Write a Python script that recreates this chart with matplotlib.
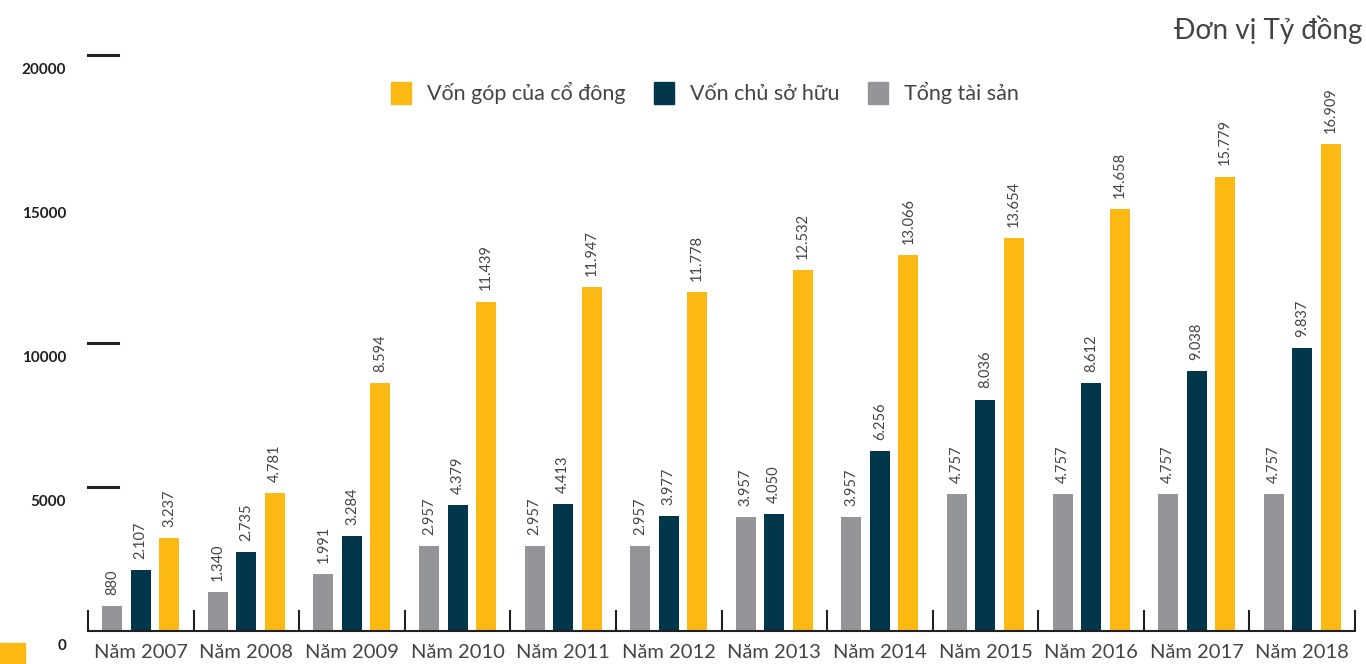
import numpy as np
import matplotlib.pyplot as plt
import matplotlib.transforms as mtransforms
from matplotlib.patches import Patch, Rectangle

plt.rcParams['font.family'] = ['Lato', 'DejaVu Sans']

years = ["Năm 2007", "Năm 2008", "Năm 2009", "Năm 2010", "Năm 2011", "Năm 2012",
         "Năm 2013", "Năm 2014", "Năm 2015", "Năm 2016", "Năm 2017", "Năm 2018"]
tong_tai_san = [880, 1340, 1991, 2957, 2957, 2957, 3957, 3957, 4757, 4757, 4757, 4757]
von_chu_so_huu = [2107, 2735, 3284, 4379, 4413, 3977, 4050, 6256, 8036, 8612, 9038, 9837]
von_gop = [3237, 4781, 8594, 11439, 11947, 11778, 12532, 13066, 13654, 14658, 15779, 16909]
ytick_vals = [0, 5000, 10000, 15000, 20000]
ytick_marks = [5000, 10000, 20000]

YELLOW = "#FDB913"
NAVY = "#02364A"
GRAY = "#949599"
DARK = "#231F20"
LABEL = "#444444"

fig = plt.figure(figsize=(13.66, 6.64), dpi=100)
ax = fig.add_axes([88/1366, 33/664, 1267/1366, 576/664])

x = np.arange(len(years)) + 0.5
w = 0.19
off = 0.27
series = [(tong_tai_san, GRAY, -off), (von_chu_so_huu, NAVY, 0), (von_gop, YELLOW, off)]
for vals, col, dx in series:
    ax.bar(x + dx, vals, width=w, color=col, zorder=2)
    for xi, v in zip(x + dx, vals):
        ax.annotate(f"{v:,}".replace(",", "."), (xi, v), xytext=(0, 8),
                    textcoords="offset points", rotation=90, ha="center", va="bottom",
                    fontsize=10.5, color=LABEL)

ax.set_xlim(0, len(years))
ax.set_ylim(0, 20000)

for s in ["left", "right", "top"]:
    ax.spines[s].set_visible(False)
ax.spines["bottom"].set_color(DARK)
ax.spines["bottom"].set_linewidth(1.5)

ax.set_xticks(np.arange(len(years) + 1))
ax.set_xticklabels([])
ax.tick_params(axis="x", which="major", direction="in", length=15, width=1.5, color=DARK)
ax.set_xticks(x, minor=True)
ax.set_xticklabels(years, minor=True, fontsize=14.5, color=LABEL)
ax.tick_params(axis="x", which="minor", length=0, pad=9)
ax.set_yticks([])

# short dashes and bold labels on the left
trans = mtransforms.blended_transform_factory(ax.transAxes, ax.transData)
for v in ytick_marks:
    ax.plot([0, 30/1267], [v, v], color=DARK, lw=2.2, transform=trans, clip_on=False)
lab_trans = trans + mtransforms.ScaledTranslation(0, -15/100, fig.dpi_scale_trans)
for v in ytick_vals:
    ax.text(-22/1267, v, str(v), transform=lab_trans, ha="right", va="center",
            fontsize=11, fontweight="bold", color=DARK)

handles = [Patch(color=YELLOW), Patch(color=NAVY), Patch(color=GRAY)]
ax.legend(handles, ["Vốn góp của cổ đông", "Vốn chủ sở hữu", "Tổng tài sản"],
          loc="center", bbox_to_anchor=(0.487, 0.934), ncol=3, frameon=False,
          fontsize=15.5, handlelength=0.95, handleheight=1.2, handletextpad=0.75,
          columnspacing=1.3, labelcolor=LABEL)

fig.text(1362/1366, 1 - 30/664, "Đơn vị Tỷ đồng", ha="right", va="center",
         fontsize=20, color=LABEL)

fig.patches.append(Rectangle((0, 0), 25/1366, 21/664, transform=fig.transFigure,
                             color=YELLOW, figure=fig))

fig.savefig("out.png", dpi=100)
